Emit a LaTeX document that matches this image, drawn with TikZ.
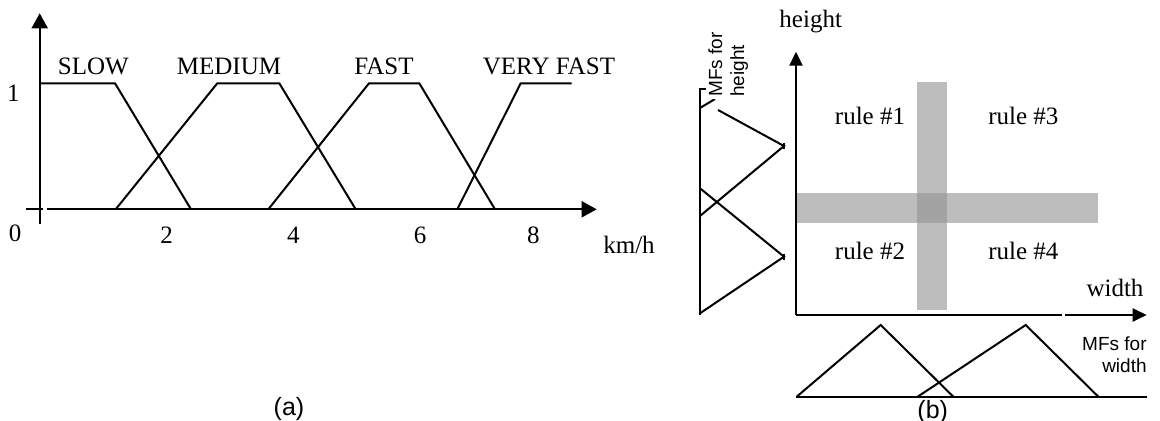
\documentclass[tikz,border=0pt]{standalone}
\usepackage{fontspec}
\setmainfont{Liberation Serif}
\setsansfont{Liberation Sans}
\usetikzlibrary{arrows.meta}
\definecolor{bandgray}{gray}{0.74}
\definecolor{bandgraydk}{gray}{0.64}
\begin{document}
\begin{tikzpicture}[
      x=0.5pt, y=-0.5pt,
      every node/.style={inner sep=0pt},
      lbl/.style={font=\fontsize{12.5}{15}\selectfont, anchor=base},
      captxt/.style={font=\sffamily\fontsize{12.5}{15}\selectfont},
      mfs/.style={font=\sffamily\fontsize{9.5}{11}\selectfont},
      mf/.style={line width=1pt},
      axis/.style={line width=1pt, -{Triangle[length=7.5pt, width=8pt]}},
      axisb/.style={line width=1pt, -{Triangle[length=7pt, width=6.5pt]}},
      band/.style={draw=none, fill=bandgray}
    ]
    \useasboundingbox (0,0) rectangle (1160,421);

    % (a) axes
    \draw[axis] (39.7,224) -- (39.7,13.3);
    \draw[mf] (26,209.3) -- (43,209.3);
    \draw[axis] (47,209.3) -- (596.7,209.3);

    % (a) speed sets
    \draw[mf] (39.7,83.3) -- (115,83.3) -- (191,209.3);
    \draw[mf] (115.7,209.3) -- (217.3,83.3) -- (279.3,83.3) -- (355.7,209.3);
    \draw[mf] (268.3,209.3) -- (369,83.3) -- (419.3,83.3) -- (495,209.3);
    \draw[mf] (457.3,209.3) -- (520.7,83.3) -- (571.7,83.3);

    \node[lbl] (slow)   at (93.3,75) {SLOW};
    \node[lbl] (medium) at (229,75)  {MEDIUM};
    \node[lbl] (fast)   at (384,75)  {FAST};
    \node[lbl] (vfast)  at (549,75)  {VERY FAST};

    % (a) ticks
    \node[lbl] (one)  at (13.5,101.7) {1};
    \node[lbl] (zero) at (15,241.7) {0};
    \foreach \v/\px in {2/166.7, 4/293.3, 6/420, 8/533.3}
      \node[lbl] (t\v) at (\px,243.5) {\v};
    \node[lbl] (kmh) at (629,253.3) {km/h};
    \node[captxt] (capa) at (289,409) {(a)};

    % (b) rule bands
    \fill[band] (916.7,81.7) rectangle (946.7,310);
    \fill[band] (796.7,193.3) rectangle (1098.3,223.3);
    \fill[band, fill=bandgraydk] (916.7,193.3) rectangle (946.7,223.3);

    % (b) axes
    \draw[axisb] (796,315) -- (796,51.7);
    \draw[mf] (796,315) -- (1062,315);
    \draw[axisb] (1065,315) -- (1146.7,315);

    % (b) MFs for height
    \draw[mf] (708.3,89.3) -- (700,89.3) -- (700,315);
    \draw[mf] (700,108) -- (715,99);
    \draw[mf] (718,110) -- (784,146) -- (700,216);
    \draw[mf] (700,188.3) -- (784,256.7) -- (700,313.3);
    \foreach \py in {146, 256.7}
      \draw[line width=0.6pt] (784,{\py-3}) -- (784,{\py+3});
    \node[mfs, align=left, rotate=90, anchor=north west, fill=white,
          inner sep=1pt] (mfh) at (706,99) {MFs for\\height};

    % (b) MFs for width
    \draw[mf] (796,396.7) -- (1146.7,396.7);
    \draw[mf] (796.7,396.7) -- (880.7,325) -- (953.3,396.7);
    \draw[mf] (917.7,396.7) -- (1025.7,325) -- (1098.3,396.7);
    \node[mfs, align=right, anchor=north east] (mfw) at (1147,336.2) {MFs for\\width};

    % (b) labels
    \node[lbl] (hlab) at (810.7,28)    {height};
    \node[lbl] (wlab) at (1115,296.7)  {width};
    \node[lbl] (r1)   at (870,125)     {rule \#1};
    \node[lbl] (r3)   at (1023.3,125)  {rule \#3};
    \node[lbl] (r2)   at (870,260)     {rule \#2};
    \node[lbl] (r4)   at (1023.3,260)  {rule \#4};
    \node[captxt] (capb) at (932.7,411.7) {(b)};
  \end{tikzpicture}
\end{document}
